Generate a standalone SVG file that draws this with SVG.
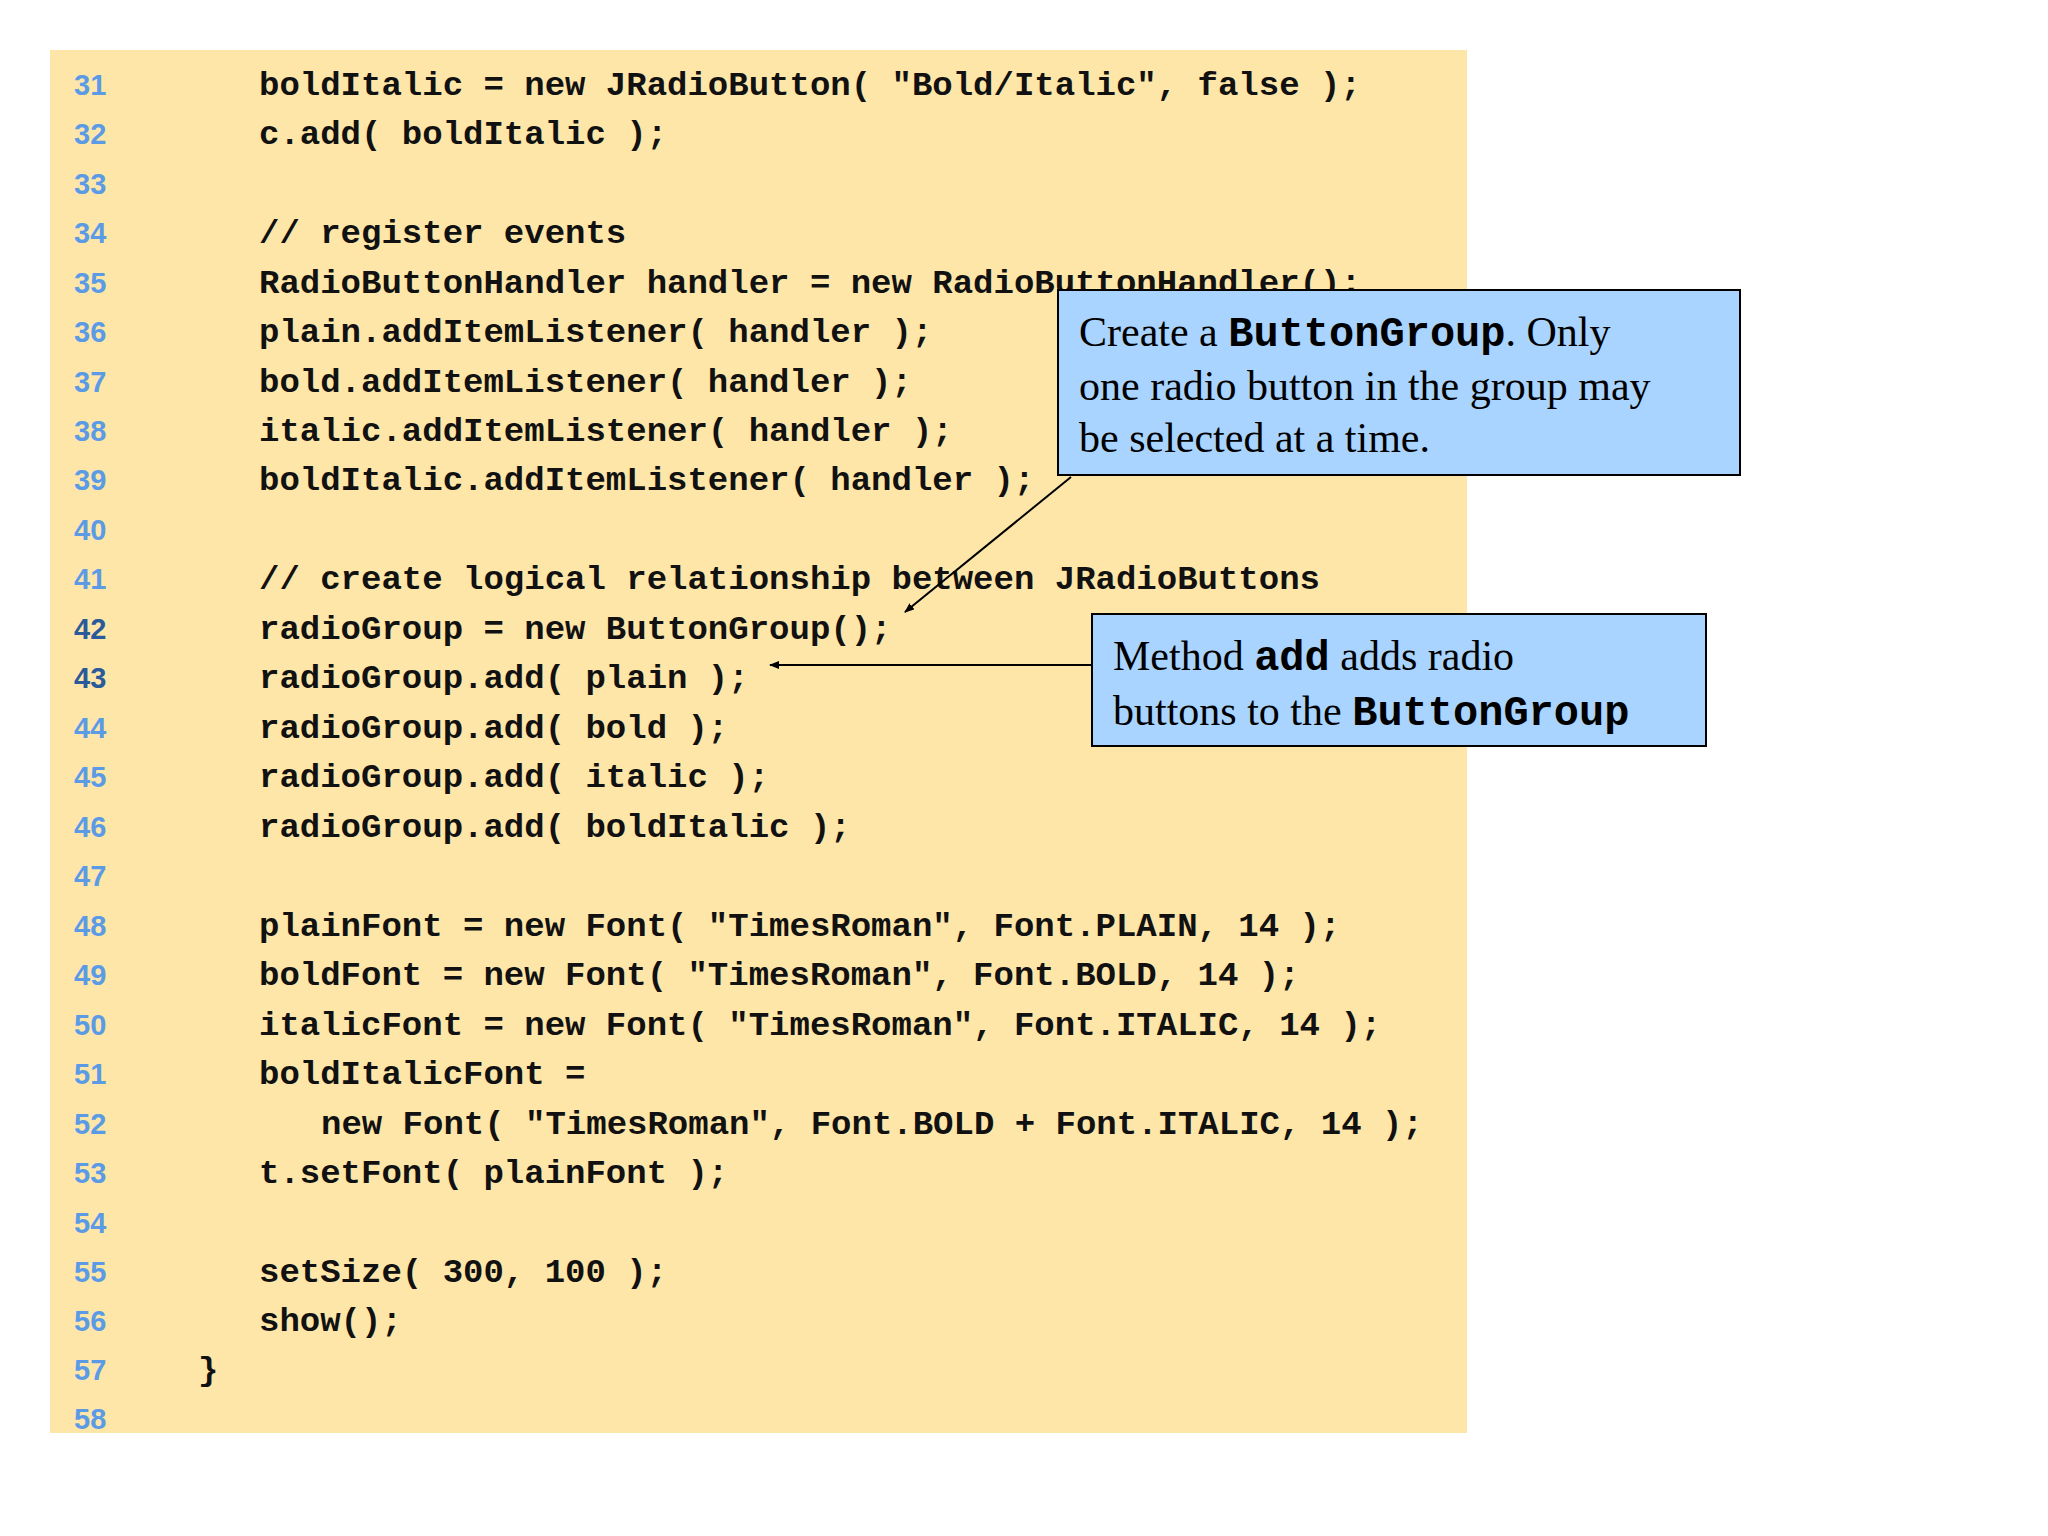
<svg xmlns="http://www.w3.org/2000/svg" width="2048" height="1536" viewBox="0 0 2048 1536">
<style>
.n{font-family:"Liberation Sans",Arial,sans-serif;font-weight:bold;font-size:29px;fill:#5b9be6}
.h{fill:#2a5a9a}
.c{font-family:"Liberation Mono","Courier New",monospace;font-weight:bold;font-size:34px;fill:#111;white-space:pre}
.t{font-family:"Liberation Serif","Times New Roman",serif;font-size:42px;fill:#000}
.m{font-family:"Liberation Mono","Courier New",monospace;font-weight:bold}
.box{fill:#a9d4ff;stroke:#000;stroke-width:2}
.ln{stroke:#000;stroke-width:2;fill:none}
</style>
<defs><marker id="a" markerWidth="10" markerHeight="8" refX="9" refY="4" orient="auto" markerUnits="userSpaceOnUse"><path d="M0,0 L10,4 L0,8z" fill="#000"/></marker></defs>
<rect width="2048" height="1536" fill="#fff"/>
<rect x="50" y="50" width="1417" height="1383" fill="#fde6a8"/>
<g id="code">
<text class="n" x="74" y="95">31</text><text class="c" x="259" y="95">boldItalic = new JRadioButton( "Bold/Italic", false );</text>
<text class="n" x="74" y="144">32</text><text class="c" x="259" y="144">c.add( boldItalic );</text>
<text class="n" x="74" y="194">33</text>
<text class="n" x="74" y="243">34</text><text class="c" x="259" y="243">// register events</text>
<text class="n" x="74" y="293">35</text><text class="c" x="259" y="293">RadioButtonHandler handler = new RadioButtonHandler();</text>
<text class="n" x="74" y="342">36</text><text class="c" x="259" y="342">plain.addItemListener( handler );</text>
<text class="n" x="74" y="392">37</text><text class="c" x="259" y="392">bold.addItemListener( handler );</text>
<text class="n" x="74" y="441">38</text><text class="c" x="259" y="441">italic.addItemListener( handler );</text>
<text class="n" x="74" y="490">39</text><text class="c" x="259" y="490">boldItalic.addItemListener( handler );</text>
<text class="n" x="74" y="540">40</text>
<text class="n" x="74" y="589">41</text><text class="c" x="259" y="589">// create logical relationship between JRadioButtons</text>
<text class="n h" x="74" y="639">42</text><text class="c" x="259" y="639">radioGroup = new ButtonGroup();</text>
<text class="n h" x="74" y="688">43</text><text class="c" x="259" y="688">radioGroup.add( plain );</text>
<text class="n" x="74" y="738">44</text><text class="c" x="259" y="738">radioGroup.add( bold );</text>
<text class="n" x="74" y="787">45</text><text class="c" x="259" y="787">radioGroup.add( italic );</text>
<text class="n" x="74" y="837">46</text><text class="c" x="259" y="837">radioGroup.add( boldItalic );</text>
<text class="n" x="74" y="886">47</text>
<text class="n" x="74" y="936">48</text><text class="c" x="259" y="936">plainFont = new Font( "TimesRoman", Font.PLAIN, 14 );</text>
<text class="n" x="74" y="985">49</text><text class="c" x="259" y="985">boldFont = new Font( "TimesRoman", Font.BOLD, 14 );</text>
<text class="n" x="74" y="1035">50</text><text class="c" x="259" y="1035">italicFont = new Font( "TimesRoman", Font.ITALIC, 14 );</text>
<text class="n" x="74" y="1084">51</text><text class="c" x="259" y="1084">boldItalicFont =</text>
<text class="n" x="74" y="1134">52</text><text class="c" x="321" y="1134">new Font( "TimesRoman", Font.BOLD + Font.ITALIC, 14 );</text>
<text class="n" x="74" y="1183">53</text><text class="c" x="259" y="1183">t.setFont( plainFont );</text>
<text class="n" x="74" y="1233">54</text>
<text class="n" x="74" y="1282">55</text><text class="c" x="259" y="1282">setSize( 300, 100 );</text>
<text class="n" x="74" y="1331">56</text><text class="c" x="259" y="1331">show();</text>
<text class="n" x="74" y="1380">57</text><text class="c" x="198" y="1380">}</text>
<text class="n" x="74" y="1429">58</text>
</g>
<g id="connectors">
<line class="ln" x1="1071" y1="477" x2="905" y2="612" marker-end="url(#a)"/>
<line class="ln" x1="1092" y1="665" x2="770" y2="665" marker-end="url(#a)"/>
</g>
<g id="callout1">
<rect class="box" x="1058" y="290" width="682" height="185"/>
<text class="t" x="1079" y="346">Create a <tspan class="m">ButtonGroup</tspan>.  Only</text>
<text class="t" x="1079" y="400">one radio button in the group may</text>
<text class="t" x="1079" y="452">be selected at a time.</text>
</g>
<g id="callout2">
<rect class="box" x="1092" y="614" width="614" height="132"/>
<text class="t" x="1113" y="670">Method <tspan class="m">add</tspan> adds radio</text>
<text class="t" x="1113" y="725">buttons to the <tspan class="m">ButtonGroup</tspan></text>
</g>
</svg>
